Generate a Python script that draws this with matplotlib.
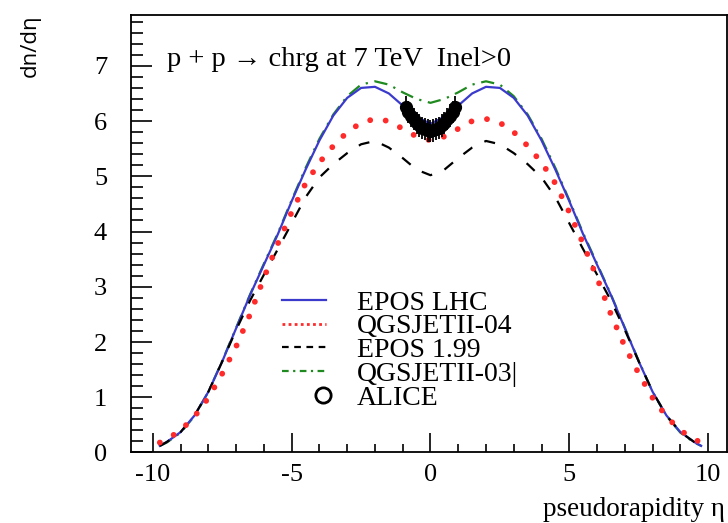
import matplotlib
matplotlib.use('Agg')
import matplotlib.pyplot as plt
from matplotlib.lines import Line2D
from matplotlib.legend_handler import HandlerBase
from matplotlib.ticker import MultipleLocator

plt.rcParams['font.family'] = ['Liberation Serif', 'DejaVu Serif']
plt.rcParams['axes.unicode_minus'] = False

# pseudorapidity grid shared by the model curves
eta = [-9.75, -9.5, -9.0, -8.5, -8.0, -7.5, -7.0, -6.5, -6.0, -5.5, -5.0, -4.5, -4.0, -3.5,
       -3.0, -2.5, -2.0, -1.5, -1.0, -0.5, 0.0, 0.5, 1.0, 1.5, 2.0, 2.5, 3.0, 3.5,
       4.0, 4.5, 5.0, 5.5, 6.0, 6.5, 7.0, 7.5, 8.0, 8.5, 9.0, 9.5, 9.75]

eposLHC = [0.12, 0.19, 0.37, 0.67, 1.10, 1.65, 2.25, 2.85, 3.40, 3.95, 4.55, 5.12, 5.65, 6.10,
           6.42, 6.60, 6.62, 6.50, 6.28, 6.08, 5.95, 6.08, 6.28, 6.50, 6.62, 6.60, 6.42, 6.10,
           5.65, 5.12, 4.55, 3.95, 3.40, 2.85, 2.25, 1.65, 1.10, 0.67, 0.37, 0.19, 0.12]

qgsjet04 = [0.18, 0.24, 0.40, 0.65, 0.99, 1.43, 1.92, 2.50, 3.16, 3.78, 4.35, 4.87, 5.25, 5.55,
            5.80, 5.97, 6.04, 6.00, 5.86, 5.72, 5.65, 5.72, 5.86, 6.00, 6.04, 5.97, 5.80, 5.55,
            5.25, 4.87, 4.35, 3.78, 3.16, 2.50, 1.92, 1.43, 0.99, 0.65, 0.40, 0.24, 0.18]

epos199 = [0.12, 0.19, 0.37, 0.67, 1.10, 1.65, 2.22, 2.75, 3.22, 3.68, 4.15, 4.62, 4.98, 5.22,
           5.42, 5.58, 5.64, 5.52, 5.33, 5.12, 5.02, 5.12, 5.33, 5.52, 5.64, 5.58, 5.42, 5.22,
           4.98, 4.62, 4.15, 3.68, 3.22, 2.75, 2.22, 1.65, 1.10, 0.67, 0.37, 0.19, 0.12]

qgsjet03 = [0.12, 0.18, 0.36, 0.66, 1.10, 1.66, 2.26, 2.86, 3.42, 3.97, 4.57, 5.15, 5.68, 6.12,
            6.45, 6.66, 6.72, 6.66, 6.52, 6.40, 6.33, 6.40, 6.52, 6.66, 6.72, 6.66, 6.45, 6.12,
            5.68, 5.15, 4.57, 3.97, 3.42, 2.86, 2.26, 1.66, 1.10, 0.66, 0.36, 0.18, 0.12]

# ALICE data points
aliceEta = [-0.9, -0.8, -0.7, -0.6, -0.5, -0.4, -0.3, -0.2, -0.1, 0.0,
            0.1, 0.2, 0.3, 0.4, 0.5, 0.6, 0.7, 0.8, 0.9]
aliceVal = [6.25, 6.17, 6.10, 6.03, 5.97, 5.92, 5.88, 5.85, 5.83, 5.82,
            5.83, 5.85, 5.88, 5.92, 5.97, 6.03, 6.10, 6.17, 6.25]
aliceErr = [0.2] * len(aliceVal)

legendNames = ['EPOS LHC', 'QGSJETII-04', 'EPOS 1.99', 'QGSJETII-03|', 'ALICE']


class MarcadorDireita(HandlerBase):
    # circulo da legenda encostado a direita, como no ROOT
    def create_artists(self, legend, orig_handle, xdescent, ydescent, width, height,
                       fontsize, trans):
        m = Line2D([width * 0.93 - xdescent], [height / 2 - ydescent], marker='o',
                   mfc='none', mec='black', mew=2, ms=11, linestyle='none',
                   transform=trans)
        return [m]


fig = plt.figure(figsize=(7.28, 5.23), dpi=100)
ax = fig.add_axes([0.1795, 0.1348, 0.8187, 0.8365])

azul = '#3a3acc'
vermelho = '#ff2a2a'
verde = '#1f8a1f'

ax.plot(eta, qgsjet03, color=verde, lw=1.6, linestyle=(0, (6, 3, 1, 3)))
ax.plot(eta, eposLHC, color=azul, lw=1.6)
ax.plot(eta, epos199, color='black', lw=1.6, linestyle=(0, (5, 6)))
ax.plot(eta, qgsjet04, color=vermelho, lw=4.2, linestyle=(0, (0.01, 2.7)),
        dash_capstyle='round')
ax.errorbar(aliceEta, aliceVal, yerr=aliceErr, fmt='o', color='black', ms=8.5,
            elinewidth=1.3, capsize=0, zorder=5)

alice = Line2D([], [], color='black', marker='o', mfc='none', linestyle='none')
handles = [
    Line2D([], [], color=azul, lw=1.6),
    Line2D([], [], color=vermelho, lw=2.0, linestyle=(0, (1, 1.2))),
    Line2D([], [], color='black', lw=1.6, linestyle=(0, (3, 2.5))),
    Line2D([], [], color=verde, lw=1.6, linestyle=(0, (3, 2, 1, 2))),
    alice,
]
ax.legend(handles, legendNames, loc='upper left', bbox_to_anchor=(0.23, 0.403),
          frameon=False, fontsize=20, handlelength=1.6, handletextpad=1.1,
          labelspacing=-0.06, borderpad=0, handler_map={alice: MarcadorDireita()})

ax.text(-9.5, 7.12, 'p + p → chrg at 7 TeV  Inel>0', fontsize=20.5, va='center',
        family=['Liberation Serif', 'DejaVu Serif', 'DejaVu Sans'])

ax.set_xlim(-10.8, 10.67)
ax.set_ylim(0, 7.92)
ax.xaxis.set_major_locator(MultipleLocator(5))
ax.xaxis.set_minor_locator(MultipleLocator(1))
ax.yaxis.set_major_locator(MultipleLocator(1))
ax.yaxis.set_minor_locator(MultipleLocator(0.2))
ax.tick_params(axis='both', which='both', direction='in', top=False, right=False,
               labelsize=19, width=1.2)
ax.tick_params(axis='x', which='major', length=14, pad=8)
ax.tick_params(axis='x', which='minor', length=6)
ax.tick_params(axis='y', which='major', length=15, pad=17)
ax.tick_params(axis='y', which='minor', length=8.5)
for lado in ax.spines.values():
    lado.set_linewidth(1.3)

fig.text(0.041, 0.972, 'dn/dη', rotation=90, ha='center', va='top', fontsize=16,
         family=['Open Sans', 'DejaVu Sans'])
fig.text(0.996, 0.025, 'pseudorapidity η', ha='right', va='center', fontsize=19.5)

fig.savefig('out.png', dpi=100)
